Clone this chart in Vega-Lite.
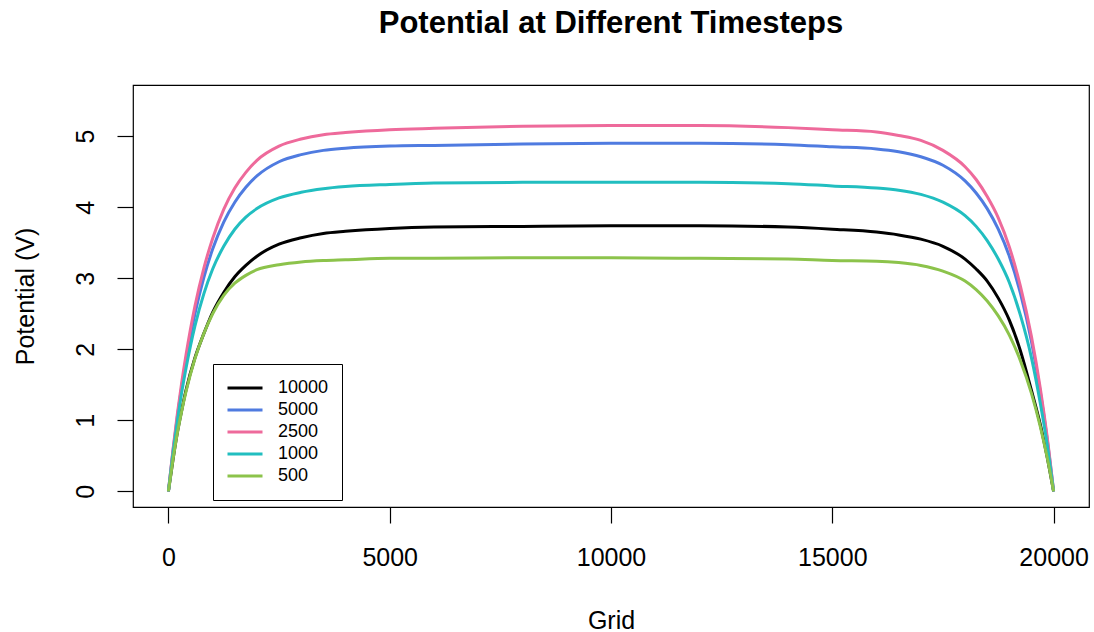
{
  "$schema": "https://vega.github.io/schema/vega-lite/v6.json",
  "width": 956,
  "height": 422,
  "autosize": {"type": "none"},
  "padding": {"left": 133, "top": 85, "right": 5, "bottom": 125},
  "background": "white",
  "title": {"text": "Potential at Different Timesteps", "fontSize": 31, "fontWeight": "bold", "font": "Liberation Sans", "color": "black", "anchor": "middle", "frame": "group", "baseline": "alphabetic", "offset": 21},
  "config": {
    "view": {"stroke": "black", "strokeWidth": 1.2},
    "font": "Liberation Sans",
    "axis": {"grid": false, "domain": false, "tickColor": "black", "tickWidth": 1.2, "labelColor": "black", "titleColor": "black", "labelFont": "Liberation Sans", "titleFont": "Liberation Sans"}
  },
  "data": {"values": [
    {"grid":0,"v":0,"step":"10000"},{"grid":100,"v":0.43,"step":"10000"},{"grid":200,"v":0.82,"step":"10000"},{"grid":300,"v":1.14,"step":"10000"},{"grid":400,"v":1.43,"step":"10000"},{"grid":600,"v":1.88,"step":"10000"},{"grid":800,"v":2.22,"step":"10000"},{"grid":1000,"v":2.52,"step":"10000"},{"grid":1250,"v":2.8,"step":"10000"},{"grid":1500,"v":3.02,"step":"10000"},{"grid":1750,"v":3.18,"step":"10000"},{"grid":2000,"v":3.31,"step":"10000"},{"grid":2500,"v":3.48,"step":"10000"},{"grid":3000,"v":3.57,"step":"10000"},{"grid":3500,"v":3.63,"step":"10000"},{"grid":4000,"v":3.66,"step":"10000"},{"grid":5000,"v":3.7,"step":"10000"},{"grid":6000,"v":3.72,"step":"10000"},{"grid":8000,"v":3.73,"step":"10000"},{"grid":10000,"v":3.74,"step":"10000"},{"grid":12000,"v":3.74,"step":"10000"},{"grid":14000,"v":3.72,"step":"10000"},{"grid":15000,"v":3.69,"step":"10000"},{"grid":16000,"v":3.65,"step":"10000"},{"grid":16500,"v":3.61,"step":"10000"},{"grid":17000,"v":3.55,"step":"10000"},{"grid":17500,"v":3.45,"step":"10000"},{"grid":18000,"v":3.27,"step":"10000"},{"grid":18250,"v":3.13,"step":"10000"},{"grid":18500,"v":2.96,"step":"10000"},{"grid":18750,"v":2.72,"step":"10000"},{"grid":19000,"v":2.41,"step":"10000"},{"grid":19250,"v":1.98,"step":"10000"},{"grid":19500,"v":1.42,"step":"10000"},{"grid":19700,"v":0.94,"step":"10000"},{"grid":19850,"v":0.5,"step":"10000"},{"grid":20000,"v":0,"step":"10000"},
    {"grid":0,"v":0,"step":"5000"},{"grid":100,"v":0.55,"step":"5000"},{"grid":200,"v":1.04,"step":"5000"},{"grid":300,"v":1.47,"step":"5000"},{"grid":400,"v":1.86,"step":"5000"},{"grid":600,"v":2.5,"step":"5000"},{"grid":800,"v":3.01,"step":"5000"},{"grid":1000,"v":3.41,"step":"5000"},{"grid":1250,"v":3.79,"step":"5000"},{"grid":1500,"v":4.07,"step":"5000"},{"grid":1750,"v":4.28,"step":"5000"},{"grid":2000,"v":4.44,"step":"5000"},{"grid":2500,"v":4.64,"step":"5000"},{"grid":3000,"v":4.74,"step":"5000"},{"grid":3500,"v":4.8,"step":"5000"},{"grid":4000,"v":4.83,"step":"5000"},{"grid":5000,"v":4.86,"step":"5000"},{"grid":6000,"v":4.87,"step":"5000"},{"grid":8000,"v":4.89,"step":"5000"},{"grid":10000,"v":4.9,"step":"5000"},{"grid":12000,"v":4.9,"step":"5000"},{"grid":14000,"v":4.88,"step":"5000"},{"grid":15000,"v":4.85,"step":"5000"},{"grid":16000,"v":4.82,"step":"5000"},{"grid":16500,"v":4.78,"step":"5000"},{"grid":17000,"v":4.71,"step":"5000"},{"grid":17500,"v":4.59,"step":"5000"},{"grid":18000,"v":4.37,"step":"5000"},{"grid":18250,"v":4.2,"step":"5000"},{"grid":18500,"v":3.98,"step":"5000"},{"grid":18750,"v":3.69,"step":"5000"},{"grid":19000,"v":3.31,"step":"5000"},{"grid":19250,"v":2.79,"step":"5000"},{"grid":19500,"v":2.11,"step":"5000"},{"grid":19700,"v":1.4,"step":"5000"},{"grid":19850,"v":0.76,"step":"5000"},{"grid":20000,"v":0,"step":"5000"},
    {"grid":0,"v":0,"step":"2500"},{"grid":100,"v":0.57,"step":"2500"},{"grid":200,"v":1.08,"step":"2500"},{"grid":300,"v":1.53,"step":"2500"},{"grid":400,"v":1.93,"step":"2500"},{"grid":600,"v":2.61,"step":"2500"},{"grid":800,"v":3.14,"step":"2500"},{"grid":1000,"v":3.56,"step":"2500"},{"grid":1250,"v":3.97,"step":"2500"},{"grid":1500,"v":4.27,"step":"2500"},{"grid":1750,"v":4.49,"step":"2500"},{"grid":2000,"v":4.66,"step":"2500"},{"grid":2500,"v":4.86,"step":"2500"},{"grid":3000,"v":4.96,"step":"2500"},{"grid":3500,"v":5.02,"step":"2500"},{"grid":4000,"v":5.05,"step":"2500"},{"grid":5000,"v":5.09,"step":"2500"},{"grid":6000,"v":5.11,"step":"2500"},{"grid":8000,"v":5.14,"step":"2500"},{"grid":10000,"v":5.15,"step":"2500"},{"grid":12000,"v":5.15,"step":"2500"},{"grid":14000,"v":5.12,"step":"2500"},{"grid":15000,"v":5.09,"step":"2500"},{"grid":16000,"v":5.06,"step":"2500"},{"grid":16500,"v":5.01,"step":"2500"},{"grid":17000,"v":4.94,"step":"2500"},{"grid":17500,"v":4.8,"step":"2500"},{"grid":18000,"v":4.57,"step":"2500"},{"grid":18250,"v":4.39,"step":"2500"},{"grid":18500,"v":4.15,"step":"2500"},{"grid":18750,"v":3.85,"step":"2500"},{"grid":19000,"v":3.44,"step":"2500"},{"grid":19250,"v":2.89,"step":"2500"},{"grid":19500,"v":2.18,"step":"2500"},{"grid":19700,"v":1.45,"step":"2500"},{"grid":19850,"v":0.79,"step":"2500"},{"grid":20000,"v":0,"step":"2500"},
    {"grid":0,"v":0,"step":"1000"},{"grid":100,"v":0.52,"step":"1000"},{"grid":200,"v":0.98,"step":"1000"},{"grid":300,"v":1.39,"step":"1000"},{"grid":400,"v":1.74,"step":"1000"},{"grid":600,"v":2.33,"step":"1000"},{"grid":800,"v":2.78,"step":"1000"},{"grid":1000,"v":3.13,"step":"1000"},{"grid":1250,"v":3.45,"step":"1000"},{"grid":1500,"v":3.69,"step":"1000"},{"grid":1750,"v":3.86,"step":"1000"},{"grid":2000,"v":3.98,"step":"1000"},{"grid":2500,"v":4.13,"step":"1000"},{"grid":3000,"v":4.21,"step":"1000"},{"grid":3500,"v":4.26,"step":"1000"},{"grid":4000,"v":4.29,"step":"1000"},{"grid":5000,"v":4.32,"step":"1000"},{"grid":6000,"v":4.34,"step":"1000"},{"grid":8000,"v":4.35,"step":"1000"},{"grid":10000,"v":4.35,"step":"1000"},{"grid":12000,"v":4.35,"step":"1000"},{"grid":14000,"v":4.33,"step":"1000"},{"grid":15000,"v":4.3,"step":"1000"},{"grid":16000,"v":4.27,"step":"1000"},{"grid":16500,"v":4.24,"step":"1000"},{"grid":17000,"v":4.18,"step":"1000"},{"grid":17500,"v":4.07,"step":"1000"},{"grid":18000,"v":3.88,"step":"1000"},{"grid":18250,"v":3.73,"step":"1000"},{"grid":18500,"v":3.53,"step":"1000"},{"grid":18750,"v":3.27,"step":"1000"},{"grid":19000,"v":2.94,"step":"1000"},{"grid":19250,"v":2.48,"step":"1000"},{"grid":19500,"v":1.88,"step":"1000"},{"grid":19700,"v":1.24,"step":"1000"},{"grid":19850,"v":0.68,"step":"1000"},{"grid":20000,"v":0,"step":"1000"},
    {"grid":0,"v":0,"step":"500"},{"grid":100,"v":0.43,"step":"500"},{"grid":200,"v":0.81,"step":"500"},{"grid":300,"v":1.13,"step":"500"},{"grid":400,"v":1.41,"step":"500"},{"grid":600,"v":1.87,"step":"500"},{"grid":800,"v":2.22,"step":"500"},{"grid":1000,"v":2.5,"step":"500"},{"grid":1250,"v":2.76,"step":"500"},{"grid":1500,"v":2.93,"step":"500"},{"grid":1750,"v":3.04,"step":"500"},{"grid":2000,"v":3.12,"step":"500"},{"grid":2500,"v":3.19,"step":"500"},{"grid":3000,"v":3.23,"step":"500"},{"grid":3500,"v":3.25,"step":"500"},{"grid":4000,"v":3.26,"step":"500"},{"grid":5000,"v":3.28,"step":"500"},{"grid":6000,"v":3.28,"step":"500"},{"grid":8000,"v":3.29,"step":"500"},{"grid":10000,"v":3.29,"step":"500"},{"grid":12000,"v":3.28,"step":"500"},{"grid":14000,"v":3.27,"step":"500"},{"grid":15000,"v":3.25,"step":"500"},{"grid":16000,"v":3.24,"step":"500"},{"grid":16500,"v":3.22,"step":"500"},{"grid":17000,"v":3.18,"step":"500"},{"grid":17500,"v":3.1,"step":"500"},{"grid":18000,"v":2.96,"step":"500"},{"grid":18250,"v":2.84,"step":"500"},{"grid":18500,"v":2.68,"step":"500"},{"grid":18750,"v":2.47,"step":"500"},{"grid":19000,"v":2.2,"step":"500"},{"grid":19250,"v":1.84,"step":"500"},{"grid":19500,"v":1.38,"step":"500"},{"grid":19700,"v":0.91,"step":"500"},{"grid":19850,"v":0.49,"step":"500"},{"grid":20000,"v":0,"step":"500"}
  ]},
  "mark": {"type": "line", "strokeWidth": 3, "interpolate": "monotone"},
  "encoding": {
    "x": {
      "field": "grid", "type": "quantitative",
      "scale": {"domain": [-800, 20800], "nice": false, "zero": false},
      "axis": {"title": "Grid", "values": [0, 5000, 10000, 15000, 20000], "format": "d", "tickSize": 16, "labelFontSize": 25, "labelBaseline": "alphabetic", "labelPadding": 42, "labelFlush": false, "labelOverlap": false, "titleFontSize": 25, "titleFontWeight": "normal", "titleBaseline": "alphabetic", "titleX": 478, "titleY": 121, "titleAlign": "center"}
    },
    "y": {
      "field": "v", "type": "quantitative",
      "scale": {"domain": [-0.22, 5.72], "nice": false, "zero": false},
      "axis": {"title": "Potential (V)", "values": [0, 1, 2, 3, 4, 5], "tickSize": 16, "labelAngle": -90, "labelAlign": "center", "labelBaseline": "alphabetic", "labelPadding": 24, "labelFontSize": 25, "labelFlush": false, "labelOverlap": false, "titleFontSize": 25, "titleFontWeight": "normal", "titleAngle": 270, "titleBaseline": "alphabetic", "titleAlign": "center", "titleX": -100, "titleY": 211}
    },
    "color": {
      "field": "step", "type": "nominal",
      "scale": {"domain": ["10000", "5000", "2500", "1000", "500"], "range": ["#000000", "#4F7BE0", "#EE6A9B", "#21BEC0", "#8CC34B"]},
      "legend": {"title": null, "orient": "none", "legendX": 80, "legendY": 279, "direction": "vertical", "symbolType": "stroke", "symbolSize": 1225, "symbolStrokeWidth": 3, "clipHeight": 22, "rowPadding": 0, "labelFontSize": 18, "labelColor": "black", "labelOffset": 14, "padding": 13, "strokeColor": "black", "fillColor": "white", "labelLimit": 200}
    }
  }
}
